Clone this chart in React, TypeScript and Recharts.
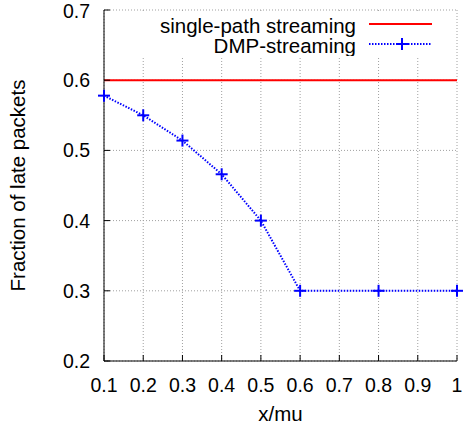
import { LineChart, Line, XAxis, YAxis, CartesianGrid, Legend } from 'recharts'

const xValues = [0.1, 0.2, 0.3, 0.4, 0.5, 0.6, 0.8, 1.0]
const dmpStreaming = [0.578, 0.55, 0.514, 0.466, 0.4, 0.3, 0.3, 0.3]
const singlePath = [0.6, 0.6, 0.6, 0.6, 0.6, 0.6, 0.6, 0.6]
const xTicks = [0.1, 0.2, 0.3, 0.4, 0.5, 0.6, 0.7, 0.8, 0.9, 1]
const yTicks = [0.2, 0.3, 0.4, 0.5, 0.6, 0.7]

const data = xValues.map((x, i) => ({ x, dmp: dmpStreaming[i], single: singlePath[i] }))

const FONT = '"Liberation Sans", Arial, Helvetica, sans-serif'
const BLUE = '#0000ff'
const RED = '#ff0000'

const fmtX = (v: number) => (v === 1 ? '1' : v.toFixed(1))
const fmtY = (v: number) => v.toFixed(1)

function Plus(props: any) {
  const { cx, cy, index } = props
  if (cx == null || cy == null) return <g key={index} />
  return (
    <g key={index}>
      <line x1={cx - 6} y1={cy} x2={cx + 6} y2={cy} stroke={BLUE} strokeWidth={2} />
      <line x1={cx} y1={cy - 6} x2={cx} y2={cy + 6} stroke={BLUE} strokeWidth={2} />
    </g>
  )
}

const NoTick = () => <g />

// gnuplot style key, opaque box in the top right corner
function KeyBox() {
  return (
    <svg width={351} height={43} style={{ display: 'block' }}>
      <text x={251} y={12.5} dy="0.35em" textAnchor="end" fontSize={20.5} fontFamily={FONT} fill="#000">
        single-path streaming
      </text>
      <line x1={264} y1={11} x2={327} y2={11} stroke={RED} strokeWidth={2} />
      <text x={251} y={33.3} dy="0.35em" textAnchor="end" fontSize={20.5} fontFamily={FONT} fill="#000">
        DMP-streaming
      </text>
      <line x1={264} y1={31} x2={327} y2={31} stroke={BLUE} strokeWidth={2} strokeDasharray="1.5 1.5" />
      <line x1={291} y1={31} x2={303} y2={31} stroke={BLUE} strokeWidth={2} />
      <line x1={297} y1={25} x2={297} y2={37} stroke={BLUE} strokeWidth={2} />
    </svg>
  )
}

export default function App() {
  const tickStyle = { fontSize: 19.5, fill: '#000', fontFamily: FONT }
  return (
    <div style={{ position: 'absolute', left: 0, top: 0, width: 464, height: 424, background: '#fff', fontFamily: FONT }}>
      <LineChart width={464} height={424} data={data} margin={{ top: 10, right: 7, bottom: 0, left: 0 }}>
        <CartesianGrid stroke="#a0a0a0" strokeDasharray="1 2" />
        <XAxis
          dataKey="x"
          type="number"
          domain={[0.1, 1]}
          ticks={xTicks}
          tickFormatter={fmtX}
          height={63}
          tickSize={-6}
          tickMargin={23}
          stroke="#000"
          tick={tickStyle}
          label={{ value: 'x/mu', position: 'insideBottom', offset: 3, fontSize: 20.5, fill: '#000', fontFamily: FONT }}
        />
        <XAxis
          xAxisId="top"
          dataKey="x"
          type="number"
          orientation="top"
          domain={[0.1, 1]}
          ticks={xTicks}
          height={0}
          tickSize={-6}
          stroke="#000"
          tick={NoTick}
        />
        <YAxis
          type="number"
          domain={[0.2, 0.7]}
          ticks={yTicks}
          tickFormatter={fmtY}
          width={104}
          tickSize={-6}
          tickMargin={20}
          stroke="#000"
          tick={tickStyle}
          label={{
            value: 'Fraction of late packets',
            angle: -90,
            position: 'insideLeft',
            offset: 18,
            style: { textAnchor: 'middle' },
            fontSize: 20.5,
            fill: '#000',
            fontFamily: FONT,
          }}
        />
        <YAxis
          yAxisId="right"
          type="number"
          orientation="right"
          domain={[0.2, 0.7]}
          ticks={yTicks}
          width={0}
          tickSize={-6}
          stroke="#000"
          tick={NoTick}
        />
        <Legend
          layout="vertical"
          verticalAlign="middle"
          align="center"
          wrapperStyle={{ position: 'absolute', top: 13, left: 105, width: 351, height: 43, background: '#fff' }}
          content={KeyBox}
        />
        <Line
          dataKey="single"
          type="linear"
          stroke={RED}
          strokeWidth={2}
          dot={false}
          activeDot={false}
          isAnimationActive={false}
        />
        <Line
          dataKey="dmp"
          type="linear"
          stroke={BLUE}
          strokeWidth={2}
          strokeDasharray="1.5 1.5"
          dot={Plus}
          activeDot={false}
          isAnimationActive={false}
        />
      </LineChart>
    </div>
  )
}
